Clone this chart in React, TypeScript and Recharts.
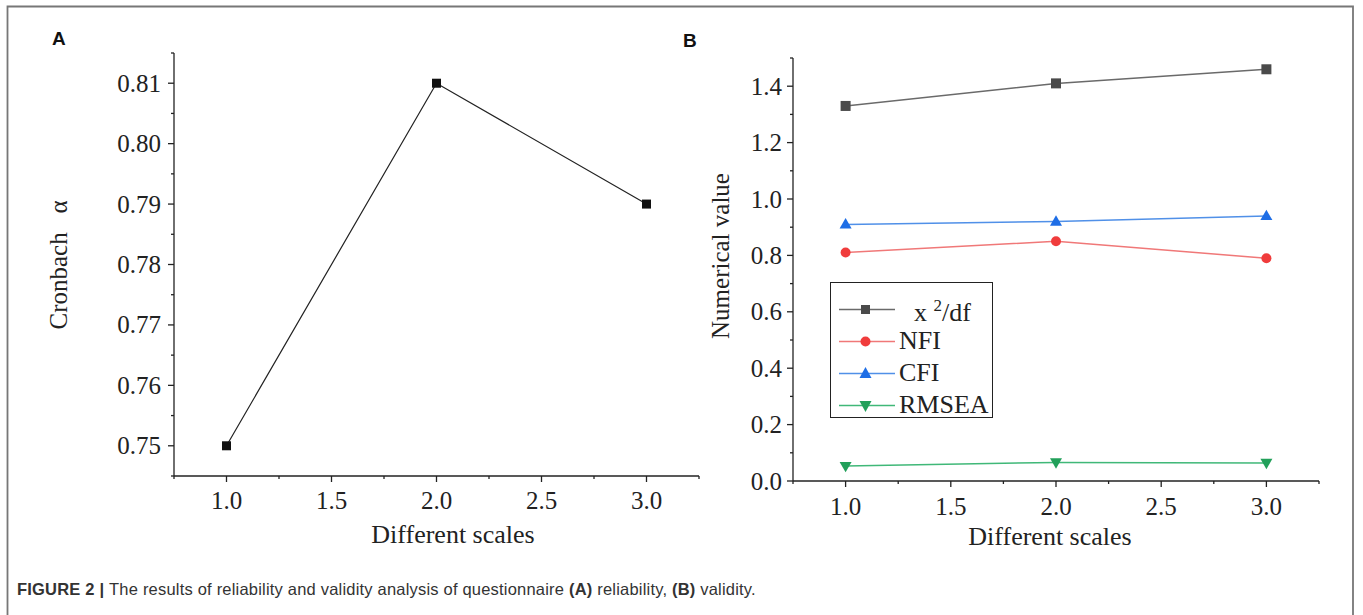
import React from 'react';
import { LineChart, Line, XAxis, YAxis, Legend } from 'recharts';

// shared x positions (the three scales)
const scales = [1, 2, 3];

// panel A
const cronbach = [0.75, 0.81, 0.79];
const aYMajor = [0.75, 0.76, 0.77, 0.78, 0.79, 0.8, 0.81];
const aYMinor = [0.745, 0.755, 0.765, 0.775, 0.785, 0.795, 0.805, 0.815];

// panel B
const chiDf = [1.33, 1.41, 1.46];
const nfi = [0.81, 0.85, 0.79];
const cfi = [0.91, 0.92, 0.94];
const rmsea = [0.053, 0.066, 0.064];
const bYMajor = [0, 0.2, 0.4, 0.6, 0.8, 1.0, 1.2, 1.4];
const bYMinor = [0.1, 0.3, 0.5, 0.7, 0.9, 1.1, 1.3, 1.5];

const xMajor = [1, 1.5, 2, 2.5, 3];
const xMinor = [0.75, 1.25, 1.75, 2.25, 2.75, 3.25];

const AXIS = '#222';
const SERIF = '"Liberation Serif", "DejaVu Serif", serif';
const SANS = '"Liberation Sans", Arial, sans-serif';

const sortNum = (a: number[], b: number[]) => [...a, ...b].sort((p, q) => p - q);
const isIn = (arr: number[], v: number) => arr.some((m) => Math.abs(m - v) < 1e-9);

const makeXTick = (labelDy: number) => (props: any) => {
  const { x, y, payload } = props;
  const major = isIn(xMajor, payload.value);
  return (
    <g>
      <line x1={x} y1={y} x2={x} y2={y + (major ? 6 : 3)} stroke={AXIS} strokeWidth={1.3} />
      {major && (
        <text x={x} y={y + labelDy} textAnchor="middle" fontFamily={SERIF} fontSize={25} fill="#222">
          {Number(payload.value).toFixed(1)}
        </text>
      )}
    </g>
  );
};

const makeYTick = (majors: number[], digits: number, gap: number) => (props: any) => {
  const { x, y, payload } = props;
  const major = isIn(majors, payload.value);
  return (
    <g>
      <line x1={x} y1={y} x2={x - (major ? 6 : 3)} y2={y} stroke={AXIS} strokeWidth={1.3} />
      {major && (
        <text x={x - gap} y={y} dy="0.34em" textAnchor="end" fontFamily={SERIF} fontSize={25} fill="#222">
          {Number(payload.value).toFixed(digits)}
        </text>
      )}
    </g>
  );
};

const square = (size: number, fill: string) => (p: any) => {
  if (p.cx == null || p.cy == null) return <g key={p.key} />;
  return <rect key={p.key} x={p.cx - size / 2} y={p.cy - size / 2} width={size} height={size} fill={fill} />;
};
const circle = (r: number, fill: string) => (p: any) => {
  if (p.cx == null || p.cy == null) return <g key={p.key} />;
  return <circle key={p.key} cx={p.cx} cy={p.cy} r={r} fill={fill} />;
};
const triUp = (w: number, fill: string) => (p: any) => {
  if (p.cx == null || p.cy == null) return <g key={p.key} />;
  const h = w * 0.87;
  return (
    <polygon
      key={p.key}
      points={`${p.cx},${p.cy - h * 0.6} ${p.cx - w / 2},${p.cy + h * 0.4} ${p.cx + w / 2},${p.cy + h * 0.4}`}
      fill={fill}
    />
  );
};
const triDown = (w: number, fill: string) => (p: any) => {
  if (p.cx == null || p.cy == null) return <g key={p.key} />;
  const h = w * 0.87;
  return (
    <polygon
      key={p.key}
      points={`${p.cx},${p.cy + h * 0.6} ${p.cx - w / 2},${p.cy - h * 0.4} ${p.cx + w / 2},${p.cy - h * 0.4}`}
      fill={fill}
    />
  );
};

const series = [
  { key: 'chi', values: chiDf, line: '#6a6a6a', mark: '#4a4a4a', dot: square(10, '#4a4a4a') },
  { key: 'nfi', values: nfi, line: '#f07878', mark: '#f03c3c', dot: circle(5, '#f03c3c') },
  { key: 'cfi', values: cfi, line: '#5090e8', mark: '#1e6ee6', dot: triUp(12, '#1e6ee6') },
  { key: 'rmsea', values: rmsea, line: '#40b878', mark: '#22a05a', dot: triDown(12, '#22a05a') },
];

const dataA = scales.map((s, i) => ({ x: s, v: cronbach[i] }));
const dataB = scales.map((s, i) => ({
  x: s,
  chi: chiDf[i],
  nfi: nfi[i],
  cfi: cfi[i],
  rmsea: rmsea[i],
}));

const legendLabels: Record<string, React.ReactNode> = {
  chi: (
    <span style={{ marginLeft: 15 }}>
      x <sup style={{ fontSize: 17, verticalAlign: 10 }}>2</sup>/df
    </span>
  ),
  nfi: 'NFI',
  cfi: 'CFI',
  rmsea: 'RMSEA',
};

const legendMarker = (key: string, color: string) => {
  if (key === 'chi') return <rect x={24} y={11} width={9} height={9} fill={color} />;
  if (key === 'nfi') return <circle cx={28.5} cy={15.5} r={5} fill={color} />;
  if (key === 'cfi') return <polygon points="28.5,9 22.5,20 34.5,20" fill={color} />;
  return <polygon points="28.5,22 22.5,11 34.5,11" fill={color} />;
};

const renderLegend = () => (
  <div
    style={{
      width: 163,
      height: 136,
      boxSizing: 'border-box',
      border: '1.5px solid #222',
      paddingTop: 10,
      background: '#fff',
    }}
  >
    {series.map((s) => (
      <div key={s.key} style={{ display: 'flex', alignItems: 'center', height: 32 }}>
        <svg width={62} height={31} style={{ marginLeft: 6, flex: 'none' }}>
          <line x1={2} y1={15.5} x2={58} y2={15.5} stroke={s.line} strokeWidth={1.5} />
          {legendMarker(s.key, s.mark)}
        </svg>
        <span style={{ fontFamily: SERIF, fontSize: 26, color: '#222', lineHeight: '32px', whiteSpace: 'nowrap' }}>
          {legendLabels[s.key]}
        </span>
      </div>
    ))}
  </div>
);

export default function App() {
  return (
    <div style={{ position: 'absolute', left: 0, top: 0, width: 1363, height: 615, background: '#fff', overflow: 'hidden' }}>
      <div style={{ position: 'absolute', left: 0, top: 0 }}>
        <LineChart width={720} height={560} data={dataA} margin={{ top: 53, right: 21, bottom: 14, left: 44 }}>
          <XAxis
            type="number"
            dataKey="x"
            domain={[0.75, 3.25]}
            ticks={sortNum(xMajor, xMinor)}
            interval={0}
            tickSize={0}
            tickMargin={0}
            tickLine={false}
            height={70}
            axisLine={{ stroke: AXIS, strokeWidth: 1.3 }}
            tick={makeXTick(33)}
          />
          <YAxis
            type="number"
            domain={[0.745, 0.815]}
            ticks={sortNum(aYMajor, aYMinor)}
            interval={0}
            tickSize={0}
            tickMargin={0}
            tickLine={false}
            width={130}
            axisLine={{ stroke: AXIS, strokeWidth: 1.3 }}
            tick={makeYTick(aYMajor, 2, 13)}
          />
          <Line
            type="linear"
            dataKey="v"
            stroke="#222"
            strokeWidth={1.2}
            dot={square(9, '#111')}
            activeDot={false}
            isAnimationActive={false}
          />
        </LineChart>
      </div>

      <div style={{ position: 'absolute', left: 700, top: 0 }}>
        <LineChart width={663} height={560} data={dataB} margin={{ top: 58, right: 44, bottom: 9, left: 10 }}>
          <XAxis
            type="number"
            dataKey="x"
            domain={[0.75, 3.25]}
            ticks={sortNum(xMajor, xMinor)}
            interval={0}
            tickSize={0}
            tickMargin={0}
            tickLine={false}
            height={70}
            axisLine={{ stroke: AXIS, strokeWidth: 1.3 }}
            tick={makeXTick(34)}
          />
          <YAxis
            type="number"
            domain={[0, 1.5]}
            ticks={sortNum(bYMajor, bYMinor)}
            interval={0}
            tickSize={0}
            tickMargin={0}
            tickLine={false}
            width={83}
            axisLine={{ stroke: AXIS, strokeWidth: 1.3 }}
            tick={makeYTick(bYMajor, 1, 11)}
          />
          {series.map((s) => (
            <Line
              key={s.key}
              type="linear"
              dataKey={s.key}
              stroke={s.line}
              strokeWidth={1.5}
              dot={s.dot}
              activeDot={false}
              isAnimationActive={false}
            />
          ))}
          <Legend
            layout="vertical"
            align="center"
            verticalAlign="middle"
            content={renderLegend}
            wrapperStyle={{ left: 130, top: 282, width: 163, height: 136 }}
          />
        </LineChart>
      </div>

      <svg width={1363} height={615} style={{ position: 'absolute', left: 0, top: 0, pointerEvents: 'none' }}>
        <path d="M7.5,620 L7.5,6.5 L1353,6.5 L1353,620" fill="none" stroke="#777" strokeWidth={1.8} />
        <text x={453} y={543} textAnchor="middle" fontFamily={SERIF} fontSize={26} fill="#222">
          Different scales
        </text>
        <text x={1050} y={545} textAnchor="middle" fontFamily={SERIF} fontSize={26} fill="#222">
          Different scales
        </text>
        <text
          x={58}
          y={265}
          transform="rotate(-90 58 265)"
          textAnchor="middle"
          dominantBaseline="central"
          fontFamily={SERIF}
          fontSize={25}
          fill="#222"
          style={{ whiteSpace: 'pre' }}
        >
          {'Cronbach   α'}
        </text>
        <text
          x={720}
          y={256}
          transform="rotate(-90 720 256)"
          textAnchor="middle"
          dominantBaseline="central"
          fontFamily={SERIF}
          fontSize={25}
          fill="#222"
        >
          Numerical value
        </text>
        <text x={52} y={45} fontFamily={SANS} fontSize={19} fontWeight="bold" fill="#111">A</text>
        <text x={683} y={47} fontFamily={SANS} fontSize={19} fontWeight="bold" fill="#111">B</text>
        <text x={17} y={595} fontFamily={SANS} fontSize={16.5} letterSpacing={0.2} fill="#333">
          <tspan fontWeight="bold">FIGURE 2 | </tspan>
          <tspan>The results of reliability and validity analysis of questionnaire </tspan>
          <tspan fontWeight="bold">(A)</tspan>
          <tspan> reliability, </tspan>
          <tspan fontWeight="bold">(B)</tspan>
          <tspan> validity.</tspan>
        </text>
      </svg>
    </div>
  );
}
